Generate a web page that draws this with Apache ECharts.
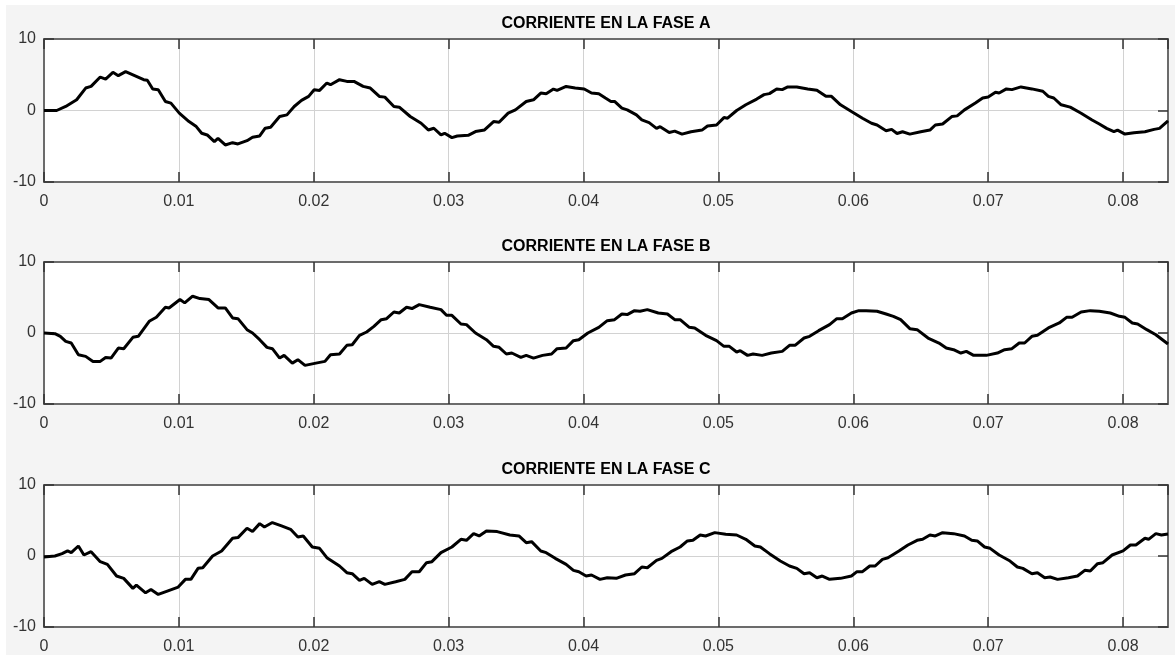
<!DOCTYPE html>
<html>
<head>
<meta charset="utf-8">
<script src="https://cdn.jsdelivr.net/npm/echarts@6/dist/echarts.min.js"></script>
<style>
html, body { margin: 0; padding: 0; background: #fff; }
#main { width: 1175px; height: 655px; }
</style>
</head>
<body>
<div id="main"></div>
<script>
var titulos = ['CORRIENTE EN LA FASE A', 'CORRIENTE EN LA FASE B', 'CORRIENTE EN LA FASE C'];
var tMax = 0.08333;
var yTicks = [-10, 0, 10];

// [tiempo (s), corriente (A)]
var faseA = [[0,0],[0.00094,0],[0.00108,0.09],[0.00161,0.56],[0.00242,1.50],[0.00309,3.14],[0.00349,3.37],[0.00417,4.68],[0.00457,4.40],[0.00511,5.34],[0.00551,4.87],[0.00605,5.43],[0.00672,4.87],[0.00739,4.31],[0.00766,4.22],[0.00806,3.00],[0.00847,2.90],[0.00900,1.26],[0.00941,1.03],[0.01003,-0.37],[0.01075,-1.55],[0.01129,-2.25],[0.01169,-3.19],[0.01210,-3.42],[0.01263,-4.36],[0.01290,-3.89],[0.01344,-4.82],[0.01398,-4.50],[0.01438,-4.68],[0.01505,-4.22],[0.01546,-3.75],[0.01599,-3.56],[0.01640,-2.48],[0.01680,-2.34],[0.01747,-0.84],[0.01801,-0.61],[0.01855,0.56],[0.01909,1.41],[0.01962,1.97],[0.02003,2.90],[0.02043,2.81],[0.02097,3.84],[0.02124,3.61],[0.02191,4.31],[0.02245,4.07],[0.02298,4.07],[0.02366,3.37],[0.02419,3.14],[0.02486,1.97],[0.02527,1.87],[0.02594,0.56],[0.02634,0.47],[0.02715,-0.84],[0.02796,-1.78],[0.02849,-2.72],[0.02890,-2.48],[0.02943,-3.42],[0.02970,-3.19],[0.03024,-3.79],[0.03064,-3.56],[0.03145,-3.47],[0.03199,-2.95],[0.03266,-2.72],[0.03333,-1.55],[0.03374,-1.64],[0.03441,-0.37],[0.03495,0.09],[0.03575,1.26],[0.03629,1.50],[0.03683,2.44],[0.03723,2.34],[0.03777,3.00],[0.03804,2.81],[0.03871,3.37],[0.03938,3.14],[0.04005,3.00],[0.04059,2.44],[0.04113,2.34],[0.04162,1.74],[0.04203,1.27],[0.04230,1.27],[0.04284,0.33],[0.04324,0.09],[0.04392,-0.61],[0.04432,-1.32],[0.04486,-1.70],[0.04541,-2.50],[0.04568,-2.26],[0.04635,-3.07],[0.04676,-2.88],[0.04730,-3.30],[0.04797,-2.97],[0.04878,-2.74],[0.04919,-2.17],[0.04986,-2.03],[0.05041,-0.99],[0.05068,-1.08],[0.05135,0],[0.05203,0.80],[0.05284,1.60],[0.05338,2.22],[0.05378,2.36],[0.05432,3.02],[0.05473,2.92],[0.05514,3.30],[0.05581,3.30],[0.05662,3.02],[0.05730,2.83],[0.05797,1.98],[0.05838,1.98],[0.05905,0.80],[0.05986,-0.14],[0.06068,-1.08],[0.06135,-1.79],[0.06176,-2.03],[0.06243,-2.83],[0.06284,-2.64],[0.06324,-3.21],[0.06365,-2.97],[0.06419,-3.30],[0.06500,-2.97],[0.06568,-2.74],[0.06608,-2.03],[0.06662,-1.89],[0.06730,-0.85],[0.06770,-0.75],[0.06824,0.09],[0.06905,1.04],[0.06959,1.75],[0.07000,1.89],[0.07054,2.55],[0.07081,2.45],[0.07135,3.02],[0.07176,2.92],[0.07243,3.30],[0.07324,3.02],[0.07405,2.69],[0.07446,1.98],[0.07486,1.75],[0.07541,0.80],[0.07608,0.47],[0.07689,-0.38],[0.07770,-1.32],[0.07824,-1.89],[0.07878,-2.50],[0.07932,-2.97],[0.07959,-2.74],[0.08014,-3.30],[0.08081,-3.11],[0.08162,-2.97],[0.08230,-2.64],[0.08270,-2.50],[0.08333,-1.45]];

var faseB = [[0,0],[0.00081,-0.09],[0.00121,-0.47],[0.00161,-1.18],[0.00202,-1.41],[0.00255,-3.06],[0.00309,-3.29],[0.00363,-4.00],[0.00417,-4.00],[0.00457,-3.44],[0.00497,-3.53],[0.00551,-2.12],[0.00591,-2.21],[0.00659,-0.61],[0.00699,-0.47],[0.00780,1.65],[0.00833,2.21],[0.00900,3.62],[0.00927,3.53],[0.01008,4.71],[0.01043,4.24],[0.01102,5.18],[0.01156,4.85],[0.01223,4.71],[0.01290,3.53],[0.01344,3.53],[0.01398,2.12],[0.01438,2.02],[0.01505,0.47],[0.01546,0],[0.01599,-0.94],[0.01653,-2.02],[0.01693,-2.21],[0.01747,-3.53],[0.01780,-3.15],[0.01841,-4.24],[0.01882,-3.76],[0.01935,-4.56],[0.02016,-4.24],[0.02083,-4.00],[0.02124,-3.06],[0.02191,-2.96],[0.02245,-1.74],[0.02285,-1.65],[0.02339,-0.33],[0.02392,0.14],[0.02446,0.94],[0.02500,1.88],[0.02540,2.02],[0.02594,2.96],[0.02634,2.82],[0.02688,3.62],[0.02728,3.44],[0.02782,4.00],[0.02863,3.62],[0.02943,3.29],[0.02984,2.49],[0.03024,2.49],[0.03091,1.27],[0.03132,1.18],[0.03199,0],[0.03280,-0.94],[0.03333,-1.88],[0.03374,-2.02],[0.03428,-2.96],[0.03468,-2.82],[0.03535,-3.44],[0.03575,-3.15],[0.03629,-3.53],[0.03696,-3.15],[0.03763,-2.96],[0.03804,-2.21],[0.03871,-2.12],[0.03925,-1.08],[0.03965,-0.94],[0.04032,0],[0.04113,0.80],[0.04176,1.74],[0.04230,1.88],[0.04284,2.68],[0.04324,2.59],[0.04378,3.15],[0.04419,3.06],[0.04473,3.29],[0.04554,2.82],[0.04622,2.68],[0.04676,1.88],[0.04716,1.88],[0.04784,0.80],[0.04824,0.71],[0.04905,-0.33],[0.04986,-1.08],[0.05041,-1.88],[0.05081,-1.88],[0.05135,-2.68],[0.05162,-2.49],[0.05216,-3.15],[0.05257,-2.96],[0.05324,-3.15],[0.05392,-2.82],[0.05473,-2.59],[0.05527,-1.74],[0.05568,-1.74],[0.05635,-0.71],[0.05676,-0.47],[0.05743,0.33],[0.05824,1.18],[0.05878,2.02],[0.05919,2.02],[0.05986,2.82],[0.06041,3.15],[0.06095,3.15],[0.06176,3.06],[0.06243,2.68],[0.06297,2.35],[0.06351,1.88],[0.06419,0.61],[0.06473,0.47],[0.06554,-0.71],[0.06635,-1.41],[0.06689,-2.12],[0.06743,-2.35],[0.06797,-2.82],[0.06838,-2.59],[0.06892,-3.15],[0.06986,-3.15],[0.07068,-2.82],[0.07122,-2.35],[0.07176,-2.21],[0.07230,-1.41],[0.07270,-1.41],[0.07324,-0.47],[0.07365,-0.33],[0.07446,0.71],[0.07527,1.41],[0.07581,2.21],[0.07622,2.21],[0.07689,2.96],[0.07757,3.15],[0.07824,3.06],[0.07905,2.82],[0.07973,2.35],[0.08014,2.21],[0.08068,1.41],[0.08108,1.27],[0.08176,0.47],[0.08243,-0.24],[0.08333,-1.55]];

var faseC = [[0,-0.14],[0.00081,0],[0.00134,0.33],[0.00175,0.71],[0.00202,0.47],[0.00255,1.41],[0.00296,0.14],[0.00349,0.61],[0.00417,-0.80],[0.00470,-1.18],[0.00538,-2.82],[0.00591,-3.15],[0.00659,-4.56],[0.00685,-4.09],[0.00753,-5.18],[0.00793,-4.71],[0.00847,-5.41],[0.00914,-4.94],[0.00995,-4.38],[0.01048,-3.29],[0.01089,-3.29],[0.01142,-1.74],[0.01177,-1.65],[0.01250,0],[0.01317,0.71],[0.01398,2.49],[0.01438,2.59],[0.01505,3.91],[0.01546,3.44],[0.01599,4.56],[0.01634,4.09],[0.01693,4.71],[0.01761,4.24],[0.01828,3.76],[0.01882,2.68],[0.01922,2.82],[0.01989,1.27],[0.02043,1.08],[0.02097,-0.24],[0.02191,-1.41],[0.02245,-2.35],[0.02285,-2.49],[0.02339,-3.44],[0.02374,-3.15],[0.02433,-4.00],[0.02486,-3.62],[0.02527,-4.00],[0.02607,-3.62],[0.02675,-3.29],[0.02728,-2.21],[0.02782,-2.21],[0.02836,-0.94],[0.02876,-0.80],[0.02943,0.47],[0.03024,1.27],[0.03091,2.35],[0.03132,2.21],[0.03185,3.15],[0.03226,2.82],[0.03280,3.53],[0.03360,3.44],[0.03454,2.96],[0.03521,2.82],[0.03575,1.88],[0.03615,2.02],[0.03683,0.71],[0.03723,0.47],[0.03790,-0.33],[0.03871,-1.18],[0.03925,-2.02],[0.03965,-2.21],[0.04019,-2.82],[0.04059,-2.68],[0.04122,-3.29],[0.04176,-3.06],[0.04243,-3.15],[0.04311,-2.68],[0.04378,-2.49],[0.04432,-1.55],[0.04473,-1.65],[0.04541,-0.61],[0.04581,-0.33],[0.04649,0.61],[0.04716,1.27],[0.04770,2.12],[0.04811,2.21],[0.04865,2.96],[0.04905,2.82],[0.04973,3.29],[0.05054,3.06],[0.05135,2.96],[0.05203,2.35],[0.05270,1.41],[0.05311,1.27],[0.05378,0.33],[0.05459,-0.71],[0.05527,-1.41],[0.05581,-1.74],[0.05635,-2.49],[0.05676,-2.35],[0.05730,-3.06],[0.05770,-2.82],[0.05824,-3.29],[0.05905,-3.15],[0.05986,-2.82],[0.06027,-2.21],[0.06068,-2.21],[0.06122,-1.41],[0.06162,-1.41],[0.06216,-0.47],[0.06257,-0.24],[0.06338,0.71],[0.06405,1.55],[0.06473,2.21],[0.06514,2.35],[0.06568,2.96],[0.06608,2.82],[0.06662,3.29],[0.06743,3.15],[0.06824,2.82],[0.06878,2.21],[0.06919,2.12],[0.06973,1.27],[0.07014,1.08],[0.07081,0.14],[0.07162,-0.71],[0.07216,-1.55],[0.07257,-1.74],[0.07324,-2.49],[0.07365,-2.35],[0.07419,-3.06],[0.07459,-2.96],[0.07514,-3.29],[0.07595,-3.06],[0.07662,-2.82],[0.07716,-2.02],[0.07757,-2.12],[0.07811,-1.08],[0.07851,-0.94],[0.07919,0.14],[0.08000,0.71],[0.08054,1.55],[0.08095,1.55],[0.08162,2.49],[0.08189,2.35],[0.08243,3.15],[0.08284,2.96],[0.08333,3.10]];

var fases = [faseA, faseB, faseC];
var tops = [39, 262, 485];
var alturas = [143, 142, 143];
var fuente = 'Liberation Sans, Arial, Helvetica, sans-serif';
var borde = { show: true, onZero: false, lineStyle: { color: '#6b6b6b', width: 2 } };
var marcas = { inside: true, length: 10, lineStyle: { color: '#333', width: 1.5 } };

var myChart = echarts.init(document.getElementById('main'));

var title = [], grid = [], xAxis = [], yAxis = [], series = [];
for (var i = 0; i < 3; i++) {
    title.push({
        text: titulos[i],
        left: 606,
        top: tops[i] - 23,
        textAlign: 'center',
        padding: 0,
        textStyle: { fontFamily: fuente, fontSize: 16, fontWeight: 'bold', color: '#000' }
    });
    grid.push({
        left: 44,
        top: tops[i],
        width: 1124,
        height: alturas[i],
        show: true,
        backgroundColor: '#fff',
        borderWidth: 0
    });
    // eje inferior con etiquetas y rejilla
    xAxis.push({
        gridIndex: i, type: 'value', min: 0, max: tMax, interval: 0.01,
        axisLine: borde,
        axisTick: marcas,
        axisLabel: { margin: 12, color: '#333', fontFamily: fuente, fontSize: 16, showMaxLabel: false },
        splitLine: { show: true, lineStyle: { color: '#d2d2d2', width: 1 } }
    });
    // eje superior solo con marcas
    xAxis.push({
        gridIndex: i, type: 'value', position: 'top', min: 0, max: tMax, interval: 0.01,
        axisLine: borde,
        axisTick: marcas,
        axisLabel: { show: false },
        splitLine: { show: false }
    });
    yAxis.push({
        gridIndex: i, type: 'value', min: yTicks[0], max: yTicks[2], interval: 10,
        axisLine: borde,
        axisTick: marcas,
        axisLabel: { margin: 8, color: '#333', fontFamily: fuente, fontSize: 16 },
        splitLine: { show: true, lineStyle: { color: '#d2d2d2', width: 1 } }
    });
    yAxis.push({
        gridIndex: i, type: 'value', position: 'right', min: yTicks[0], max: yTicks[2], interval: 10,
        axisLine: borde,
        axisTick: marcas,
        axisLabel: { show: false },
        splitLine: { show: false }
    });
    series.push({
        name: titulos[i],
        type: 'line',
        xAxisIndex: i * 2,
        yAxisIndex: i * 2,
        data: fases[i],
        showSymbol: false,
        smooth: false,
        lineStyle: { color: '#000', width: 3 }
    });
}

var option = {
    animation: false,
    backgroundColor: '#f4f4f4',
    graphic: [
        { type: 'rect', shape: { x: 0, y: 0, width: 1175, height: 5 }, style: { fill: '#fff' } },
        { type: 'rect', shape: { x: 0, y: 0, width: 6, height: 655 }, style: { fill: '#fff' } }
    ],
    title: title,
    grid: grid,
    xAxis: xAxis,
    yAxis: yAxis,
    series: series
};
myChart.setOption(option);
</script>
</body>
</html>
